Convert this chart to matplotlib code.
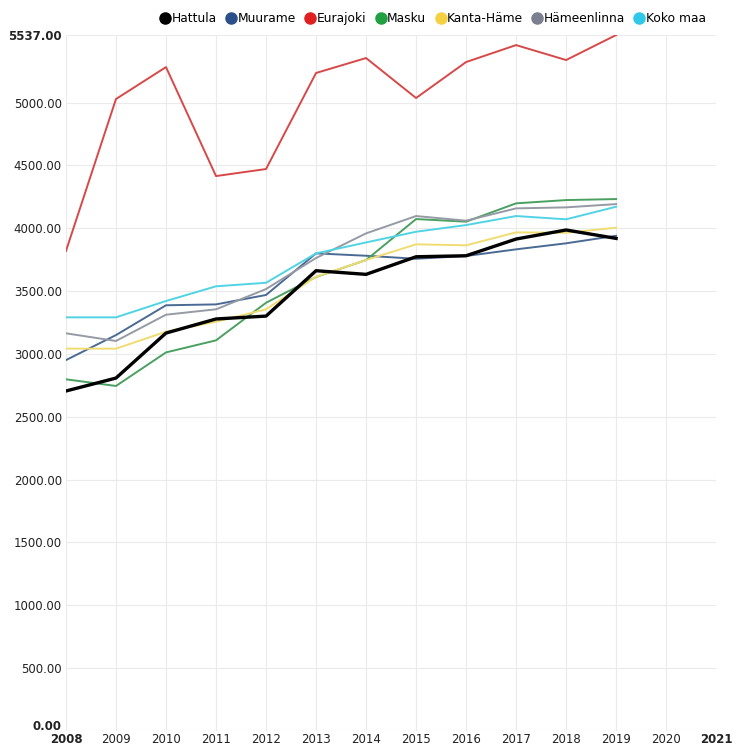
import matplotlib
matplotlib.use("Agg")
import matplotlib.pyplot as plt
from matplotlib.lines import Line2D
from matplotlib.transforms import ScaledTranslation

years = list(range(2008, 2020))

hattula = [2705, 2808, 3166, 3278, 3301, 3662, 3633, 3773, 3781, 3914, 3986, 3919]
muurame = [2951, 3150, 3387, 3394, 3469, 3800, 3781, 3757, 3779, 3832, 3880, 3940]
eurajoki = [3819, 5028, 5282, 4415, 4471, 5235, 5354, 5036, 5322, 5457, 5338, 5537]
masku = [2798, 2745, 3012, 3108, 3407, 3612, 3747, 4073, 4052, 4198, 4224, 4232]
kanta_hame = [3042, 3042, 3177, 3256, 3355, 3614, 3747, 3872, 3864, 3967, 3964, 4004]
hameenlinna = [3164, 3103, 3312, 3355, 3516, 3763, 3959, 4097, 4060, 4158, 4166, 4192]
koko_maa = [3291, 3291, 3421, 3538, 3566, 3800, 3887, 3972, 4025, 4097, 4071, 4171]

names = ["Hattula", "Muurame", "Eurajoki", "Masku", "Kanta-Häme", "Hämeenlinna", "Koko maa"]
dot_colors = ["#000000", "#2b4f8a", "#e02020", "#20a040", "#f5d040", "#7a8090", "#30c8e8"]
line_colors = ["#000000", "#4a6a94", "#d84848", "#4aa060", "#f0dc70", "#959aa4", "#50d4e4"]

ymax = 5537
yticks = [0, 500, 1000, 1500, 2000, 2500, 3000, 3500, 4000, 4500, 5000, ymax]

fig = plt.figure(figsize=(7.33, 7.47), dpi=100)
ax = fig.add_axes([0.09, 0.0214, 0.887, 0.9317])

series = [hattula, muurame, eurajoki, masku, kanta_hame, hameenlinna, koko_maa]
# draw everything but Hattula first, then Hattula on top
for i in [1, 2, 3, 4, 5, 6]:
    ax.plot(years, series[i], color=line_colors[i], lw=1.4, zorder=2)
ax.plot(years, hattula, color=line_colors[0], lw=2.4, zorder=3)

ax.set_xlim(2008, 2021)
ax.set_ylim(0, ymax)
ax.set_xticks(range(2008, 2022))
ax.set_yticks(yticks)
ax.set_yticklabels([f"{v:.2f}" for v in yticks])
ax.grid(True, color="#ebebeb", lw=0.8)
ax.set_axisbelow(True)
for s in ax.spines.values():
    s.set_visible(False)
ax.tick_params(length=0, labelsize=8.5, colors="#222222", pad=3)
ax.tick_params(axis="x", pad=1.5)
for lab in ax.get_xticklabels():
    if lab.get_text() in ("2008", "2021"):
        lab.set_fontweight("bold")
for lab in ax.get_yticklabels():
    if lab.get_text() in ("0.00", "5537.00"):
        lab.set_fontweight("bold")
    if lab.get_text() == "0.00":
        # lift a bit so it does not run into the 2008 label
        lab.set_transform(lab.get_transform() + ScaledTranslation(0, 4 / 72, fig.dpi_scale_trans))

handles = [Line2D([], [], marker="o", ls="", color=c, markersize=8) for c in dot_colors]
fig.legend(handles, names, loc="center", bbox_to_anchor=(0.59, 0.975), ncol=7,
           frameon=False, fontsize=8.8, handletextpad=0.0, columnspacing=0.7,
           handlelength=1.0, borderaxespad=0)

fig.savefig("out.png", dpi=100)
